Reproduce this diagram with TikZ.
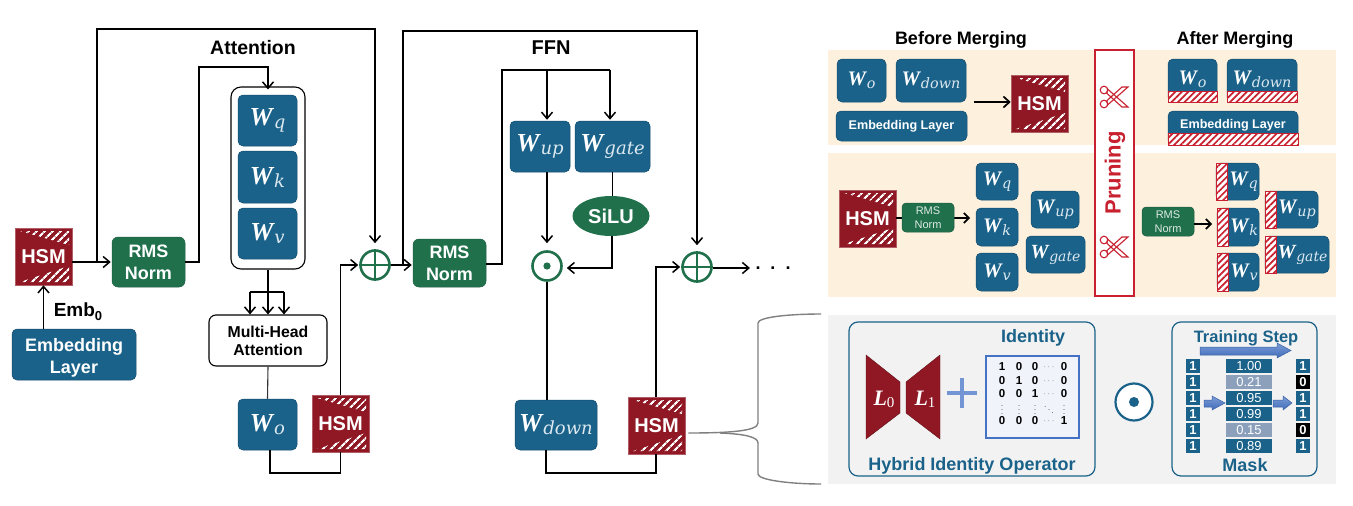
\documentclass[tikz,border=0pt]{standalone}
\usepackage{fontspec}
\setmainfont{Liberation Sans}
\newfontfamily\wf{DejaVu Serif}
\newfontfamily\wb{Liberation Serif}
\usetikzlibrary{arrows.meta,patterns.meta,calc,shapes.geometric}
\definecolor{bl}{HTML}{1A6289}
\definecolor{gr}{HTML}{20704C}
\definecolor{rd}{HTML}{8F1824}
\definecolor{pr}{HTML}{C8202F}
\definecolor{bge}{HTML}{FDF0DD}
\definecolor{gy}{HTML}{F2F2F2}
\definecolor{sb}{HTML}{DCE8F0}
\definecolor{mb}{HTML}{4472C4}
\definecolor{dimb}{HTML}{8CA0BC}
\newcommand\WW[2]{{\fontsize{\fpeval{#1*1.18}}{#1}\selectfont\wb\bfseries\itshape W}\raisebox{-.3em}{\fontsize{\fpeval{#1*.82}}{#1}\selectfont\wf\itshape\color{sb}\kern.06em #2}}
\newcommand\bx[7]{\pgfmathsetmacro\cx{(#3+#5)/2}\pgfmathsetmacro\cy{(#4+#6)/2}%
 \node[#1,minimum width={(#5-#3)*1pt},minimum height={(#6-#4)*1pt}] (#2) at (\cx,\cy) {#7};}
\newcommand\hsm[3]{% name, x1, y1
 \bx{hsmbox}{#1}{#2}{#3}{#2+57}{#3+57}{HSM}
 \begin{scope}[shift={(#2,#3)}]
 \fill[pattern={Lines[angle=45,distance=5.4pt,line width=2.3pt]},pattern color=white] (5,3)--(54,3)--(54,17)--cycle;
 \fill[pattern={Lines[angle=45,distance=5.4pt,line width=2.3pt]},pattern color=white] (5,54)--(54,54)--(54,38)--cycle;
 \end{scope}}
\newcommand\hb[4]{\path[draw=pr,line width=.9pt,preaction={fill=white},pattern={Lines[angle=45,distance=4.6pt,line width=1.7pt]},pattern color=pr] (#1,#2) rectangle (#3,#4);}
\newcommand\sciss[2]{\begin{scope}[shift={(#1,#2)},draw=pr,line width=1.1pt,fill=white]
 \draw (-10,-7) circle[radius=3.8]; \draw (-10,7) circle[radius=3.8];
 \draw (-6.5,-8)--(14,10)--(8,10)--(-7,-3.5)--cycle;
 \draw (-6.5,8)--(14,-10)--(8,-10)--(-7,3.5)--cycle;
 \end{scope}}
\newcommand\blk[7]{\draw[blockarr] (#1,#5)--(#3,#5)--(#3,#4)--(#2,{(#4+#7)/2})--(#3,#7)--(#3,#6)--(#1,#6)--cycle;}
\tikzset{
 wbox/.style={fill=bl,draw=bl!80!black,rounded corners=5pt,inner sep=0pt,text=white,line width=.5pt,align=center},
 gbox/.style={fill=gr,draw=gr!85!black,rounded corners=6pt,inner sep=0pt,text=white,line width=.5pt,align=center,font=\bfseries\fontsize{18}{22}\selectfont},
 gsmall/.style={fill=gr,draw=gr!85!black,rounded corners=4pt,inner sep=0pt,text=white!85!gr,line width=.5pt,align=center,font=\fontsize{11}{14}\selectfont},
 ebox/.style={wbox,font=\bfseries\fontsize{18}{22}\selectfont},
 esmall/.style={wbox,font=\bfseries\fontsize{12.6}{15}\selectfont},
 hsmbox/.style={fill=rd,draw=rd!70!white,line width=.6pt,inner sep=0pt,text=white,font=\bfseries\fontsize{20}{24}\selectfont},
 wire/.style={draw=black,line width=1.5pt},
 arr/.style={wire,-{Straight Barb[length=6.5pt,width=11pt,line width=1.5pt]}},
 ring/.style={circle,draw=gr,fill=white,line width=2.6pt,minimum size=29pt,inner sep=0pt},
 title/.style={font=\bfseries\fontsize{19.5}{22}\selectfont,inner sep=0pt},
 ptitle/.style={font=\bfseries\fontsize{18}{22}\selectfont,inner sep=0pt},
 btitle/.style={font=\bfseries\fontsize{18}{22}\selectfont,inner sep=0pt,text=bl},
 brace/.style={draw=black!50,line width=1.4pt},
 card/.style={draw=bl,fill=gy,line width=1.2pt,rounded corners=9pt},
 blockarr/.style={draw=mb!85!black,line width=.5pt,top color=mb!70!white,bottom color=mb!95!black},
 cell/.style={fill=bl,text=white,inner sep=0pt,minimum height=14.5pt,font=\bfseries\fontsize{13}{14}\selectfont},
 mx/.style={inner sep=0pt,font=\bfseries\fontsize{11.5}{12}\selectfont},
 mxd/.style={inner sep=0pt,text=black!60,font=\fontsize{9}{9}\selectfont},
}
\begin{document}
\begin{tikzpicture}[x=1pt,y=-1pt]
\useasboundingbox[fill=white] (0,0) rectangle (1353,506);

% ---------- panels
\fill[bge] (828,50) rectangle (1336,145);
\fill[bge] (828,153) rectangle (1336,297);
\fill[gy] (828,315) rectangle (1336,484);

% ---------- left: attention
\hsm{hsmA}{15}{228}
\bx{gbox}{rmsA}{112}{237}{185}{287}{RMS\\Norm}
\bx{ebox}{emb}{12}{329}{136}{380}{\rule{0pt}{20pt}Embedding\\Layer}
\bx{draw=black,line width=1.1pt,rounded corners=10pt,inner sep=0pt}{att}{231}{87}{305}{269}{}
\bx{wbox}{wq}{238}{95}{297}{146}{\WW{22}{q}}
\bx{wbox}{wk}{238}{151}{297}{203}{\WW{22}{k}}
\bx{wbox}{wv}{238}{208}{297}{259}{\WW{22}{v}}
\bx{draw=black,line width=1.1pt,fill=white,rounded corners=7pt,inner sep=0pt,align=center,font=\bfseries\fontsize{15.8}{18}\selectfont}{mha}{209}{315}{327}{366}{Multi-Head\\Attention}
\bx{wbox}{wo}{238}{399}{297}{450}{\WW{22}{o}}
\hsm{hsmB}{312}{395}
\node[ring] (plusA) at (375,265) {};
\draw[gr,line width=2.4pt] (plusA.north)--(plusA.south) (plusA.west)--(plusA.east);
\node[title] (tatt) at (253,47.5) {Attention};
\node[inner sep=0pt,font=\bfseries\fontsize{19}{20}\selectfont] (embt) at (78,312) {Emb\raisebox{-.2em}{\fontsize{13}{14}\selectfont 0}};

\coordinate (j1) at (97,261);
\coordinate (b1) at (97,29);
\coordinate (b2) at (199,67);
\coordinate (s1) at (250,292);
\coordinate (s2) at (284,292);
\coordinate (c1) at (270,473);
\draw[arr,shorten >=1pt] (hsmA.east |- rmsA.west) -- (rmsA.west);
\draw[arr,shorten >=6pt] (j1) -- (b1) -| (plusA.north);
\draw[arr,shorten >=-3pt] (rmsA.east) -| (b2) -| (att.north);
\draw[arr] (emb.north -| hsmA.south) -- (hsmA.south);
\draw[arr,line width=1.1pt] (att.south) -- (mha.north);
\draw[wire,line width=1.1pt] (s1) -- (s2);
\draw[arr,line width=1.1pt] (s1) -- (s1 |- mha.north);
\draw[arr,line width=1.1pt] (s2) -- (s2 |- mha.north);
\draw[wire,black!80,line width=1.1pt] (mha.south) -- (wo.north);
\draw[wire] (c1 |- wo.south) -- (c1) -| (hsmB.south);
\draw[arr,shorten >=1pt] (hsmB.north) |- (plusA.west);

% ---------- middle: FFN
\bx{gbox}{rmsB}{413}{239}{486}{287}{RMS\\Norm}
\bx{wbox}{wup}{510}{121}{570}{172}{\WW{22}{up}}
\bx{wbox}{wgate}{575}{121}{650}{172}{\WW{22}{gate}}
\node[ellipse,fill=gr,minimum width=77pt,minimum height=40pt,inner sep=0pt,text=white,font=\bfseries\fontsize{20}{24}\selectfont] (silu) at (611,216) {SiLU};
\node[ring] (odA) at (547,266) {};
\fill[gr] (odA.center) circle[radius=3.6];
\node[ring] (plusB) at (697,267) {};
\draw[gr,line width=2.4pt] (plusB.north)--(plusB.south) (plusB.west)--(plusB.east);
\bx{wbox}{wdown}{515}{400}{597}{450}{\WW{22}{down}}
\hsm{hsmC}{628}{397}
\node[title,font=\bfseries\fontsize{20}{22}\selectfont] (tffn) at (551,47.5) {FFN};
\node[inner sep=0pt,font=\bfseries\fontsize{18}{20}\selectfont] (dots) at (773,268) {.\hspace{10pt}.\hspace{10pt}.};

\coordinate (j2) at (403,265);
\coordinate (b3) at (403,31);
\coordinate (r2) at (502,264);
\coordinate (b4) at (502,70);
\coordinate (h1) at (547,70);
\coordinate (h2) at (610,70);
\coordinate (c2) at (546,473);
\coordinate (c3) at (656,473);
\coordinate (oe) at (612,268);
\coordinate (e1) at (750,268);
\draw[arr,shorten >=1pt] (plusA.east) -- (rmsB.west |- plusA.east);
\draw[arr,shorten >=6pt] (j2) -- (b3) -| (plusB.north);
\draw[wire] (rmsB.east |- r2) -- (r2) -- (b4) -- (h2);
\draw[arr,shorten >=1pt] (h1) -- (wup.north -| h1);
\draw[arr,shorten >=1pt] (h2) -- (wup.north -| h2);
\draw[arr,shorten >=7pt] (wup.south -| h1) -- (odA.north);
\draw[wire] (wgate.south) -- (silu.north -| wgate.south);
\draw[arr,shorten >=4pt] (silu.south -| oe) -- (oe) -- (odA.east |- oe);
\draw[wire] (odA.south) -- (wdown.north -| odA.south);
\draw[wire] (c2 |- wdown.south) -- (c2) -- (c3) -- (hsmC.south -| c3);
\draw[arr,shorten >=1pt] (hsmC.north -| c3) |- (plusB.west);
\draw[arr] (plusB.east |- e1) -- (e1);
\coordinate (bm) at (720,433);
\coordinate (btp) at (821,314);
\coordinate (bbt) at (821,484);
\draw[brace] (hsmC.east |- bm) ++(3,0) .. controls (730,433) and (758,431) .. (758,423) -- (758,323) .. controls (758,317) and (790,314) .. (btp);
\draw[brace] (bm) .. controls (745,434) and (758,437) .. (758,443) -- (758,474) .. controls (758,480) and (790,484) .. (bbt);

% ---------- before merging
\node[ptitle] (tb) at (961,40) {Before Merging};
\node[ptitle] (ta) at (1235,40) {After Merging};
\bx{wbox}{p1o}{837}{59}{886}{102}{\WW{17.5}{o}}
\bx{wbox}{p1d}{896}{59}{966}{102}{\WW{17.5}{down}}
\bx{esmall}{p1e}{836}{111}{967}{141}{Embedding Layer}
\hsm{p1h}{1011}{75}
\coordinate (p1a) at (974,102);
\draw[wire,line width=1.7pt,-{Straight Barb[length=6pt,width=11pt,line width=1.7pt]}] (p1a) -- (p1h.west |- p1a) ;

\hsm{p2h}{839}{190}
\coordinate (p2a) at (970,218);
\draw[wire,line width=1.7pt,-{Straight Barb[length=5pt,width=10pt,line width=1.7pt]}] (p2h.east |- p2a) -- (p2a);
\bx{gsmall}{p2r}{902}{203}{954}{232}{RMS\\Norm}
\bx{wbox}{p2q}{976}{163}{1018}{200}{\WW{17.5}{q}}
\bx{wbox}{p2k}{976}{208}{1018}{246}{\WW{17.5}{k}}
\bx{wbox}{p2v}{976}{253}{1018}{291}{\WW{17.5}{v}}
\bx{wbox}{p2u}{1031}{191}{1079}{228}{\WW{17.5}{up}}
\bx{wbox}{p2g}{1026}{236}{1085}{273}{\WW{17}{gate}}

% ---------- pruning
\bx{draw=pr,fill=white,line width=1.1pt,inner sep=0pt}{prune}{1095}{50}{1134}{296}{}
\node[rotate=90,text=pr,inner sep=0pt,font=\bfseries\fontsize{22}{24}\selectfont] (ptxt) at (1115,173) {Pruning};
\sciss{1114}{97}
\sciss{1114}{247}

% ---------- after merging
\bx{wbox}{a1o}{1168}{59}{1217}{102}{\raisebox{5pt}{\WW{17.5}{o}}}
\hb{1168}{91}{1217}{102}
\bx{wbox}{a1d}{1227}{59}{1297}{102}{\raisebox{5pt}{\WW{17.5}{down}}}
\hb{1227}{91}{1297}{102}
\bx{esmall}{a1e}{1168}{111}{1298}{145}{\raisebox{9pt}{Embedding Layer}}
\hb{1168}{133}{1298}{145}

\bx{gsmall}{a2r}{1142}{207}{1194}{236}{RMS\\Norm}
\coordinate (a2a) at (1212,224);
\draw[wire,line width=1.7pt,-{Straight Barb[length=5pt,width=10pt,line width=1.7pt]}] (a2r.east |- a2a) -- (a2a);
\bx{wbox}{a2q}{1216}{163}{1259}{200}{\hspace{12pt}\WW{17.5}{q}}
\hb{1216}{163}{1227}{200}
\bx{wbox}{a2k}{1217}{208}{1259}{246}{\hspace{12pt}\WW{17.5}{k}}
\hb{1217}{208}{1228}{246}
\bx{wbox}{a2v}{1217}{253}{1259}{291}{\hspace{12pt}\WW{17.5}{v}}
\hb{1217}{253}{1228}{291}
\bx{wbox}{a2u}{1265}{191}{1318}{228}{\hspace{11pt}\WW{17.5}{up}}
\hb{1265}{191}{1276}{228}
\bx{wbox}{a2g}{1265}{236}{1329}{273}{\hspace{11pt}\WW{17}{gate}}
\hb{1265}{236}{1276}{273}

% ---------- hybrid identity operator
\bx{card}{hio}{849}{322}{1095}{476}{}
\node[btitle] (tid) at (1033,338) {Identity};
\node[btitle] (thio) at (972,466) {Hybrid Identity Operator};
\fill[rd,draw=rd!70!black,line width=.4pt] (866,355)--(900,382)--(900,413)--(866,439)--cycle;
\fill[rd,draw=rd!70!black,line width=.4pt] (940,355)--(906,382)--(906,413)--(940,439)--cycle;
\node[text=white,inner sep=0pt] (l0) at (884,399) {{\fontsize{22}{22}\selectfont\wb\bfseries\itshape L}\raisebox{-.2em}{\fontsize{15}{20}\selectfont\wb 0}};
\node[text=white,inner sep=0pt] (l1) at (925,399) {{\fontsize{22}{22}\selectfont\wb\bfseries\itshape L}\raisebox{-.2em}{\fontsize{15}{20}\selectfont\wb 1}};
\draw[mb!75!white,line width=4pt] (947,393)--(977,393) (962,378)--(962,408);
\bx{draw=mb,fill=mb!8!white,line width=1.6pt,inner sep=0pt}{mat}{986}{356}{1079}{438}{}
\foreach \r/\yy/\aa/\bb/\cc/\dd in {1/367/1/0/0/0,2/381/0/1/0/0,3/394/0/0/1/0,5/421/0/0/0/1}{
 \node[mx] (m\r a) at (1002,\yy) {\aa};
 \node[mx] (m\r b) at (1019,\yy) {\bb};
 \node[mx] (m\r c) at (1035,\yy) {\cc};
 \node[mxd] (m\r d) at (1049,\yy) {$\cdots$};
 \node[mx] (m\r e) at (1064,\yy) {\dd};
}
\foreach \xx/\nn in {1002/a,1019/b,1035/c,1064/e}{\node[mxd] (m4\nn) at (\xx,407) {$\vdots$};}
\node[mxd] (m4d) at (1049,407) {$\ddots$};

% ---------- circled dot
\node[circle,draw=bl,fill=white,line width=2.2pt,minimum size=37pt,inner sep=0pt] (odB) at (1134,402) {};
\fill[bl] (odB.center) circle[radius=5];

% ---------- mask
\bx{card}{mask}{1172}{322}{1317}{476}{}
\node[btitle,font=\bfseries\fontsize{16.5}{20}\selectfont] (tstep) at (1246,338.5) {Training Step};
\node[btitle] (tmask) at (1245,465) {Mask};
\blk{1200}{1291}{1277}{343}{347}{355}{358}
\foreach \i/\yy/\v/\cc/\o/\oc in {1/366/1.00/bl/1/bl,2/382/0.21/dimb/0/black,3/398/0.95/bl/1/bl,4/414/0.99/bl/1/bl,5/430/0.15/dimb/0/black,6/446/0.89/bl/1/bl}{
 \node[cell,minimum width=14.5pt] (ml\i) at (1193,\yy) {1};
 \node[cell,minimum width=46pt,fill=\cc,font=\fontsize{13}{14}\selectfont] (mm\i) at (1249,\yy) {\v};
 \node[cell,minimum width=14.5pt,fill=\oc] (mr\i) at (1303,\yy) {\o};
}
\blk{1204}{1225}{1212}{396}{400}{407}{410}
\blk{1273}{1292}{1283}{396}{400}{407}{410}
\end{tikzpicture}
\end{document}
